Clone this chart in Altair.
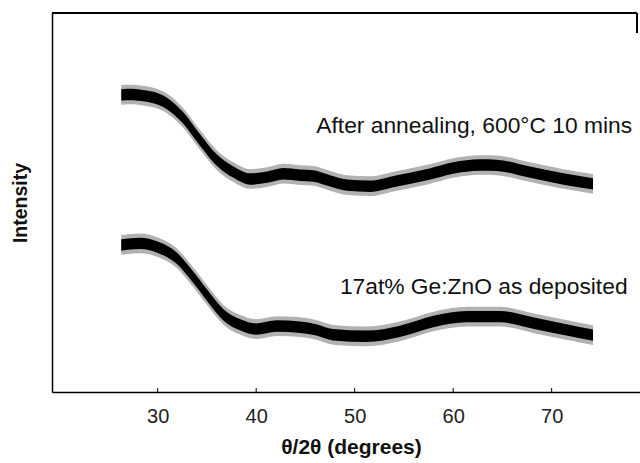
import altair as alt
import pandas as pd

# ---- data (2theta in degrees, intensity in arbitrary units) ----
deg_top = [26.3, 27.5, 28.5, 29.55, 30.9, 32.6, 34.3, 36.0, 37.7, 39.4, 41.1, 42.75,
           44.45, 45.8, 47.5, 49.2, 51.55, 54.3, 57.6, 60.0, 62.7, 64.4, 67.8, 71.2, 74.2]
int_top = [784, 785, 782, 777, 762, 723, 665, 612, 580, 562, 567, 576,
           572, 570, 557, 546, 543, 557, 575, 591, 599, 598, 580, 562, 549]

deg_bot = [26.3, 28.2, 30.2, 31.9, 33.6, 35.0, 36.7, 38.4, 40.0, 42.1, 44.45,
           46.1, 47.8, 51.2, 54.6, 58.0, 61.4, 64.75, 68.1, 71.5, 74.2]
int_bot = [388, 392, 380, 354, 303, 256, 203, 177, 166, 174, 171,
           164, 151, 147, 160, 186, 199, 199, 182, 164, 150]

series_names = ["After annealing", "As deposited"]
tick_values = [30, 40, 50, 60, 70]

label_texts = ["After annealing, 600°C 10 mins", "17at% Ge:ZnO as deposited"]
label_deg = [46.1, 48.5]
label_int = [683, 259]

# ---- tables ----
rows = []
for d, v in zip(deg_top, int_top):
    rows.append({"deg": d, "intensity": v, "sample": series_names[0]})
for d, v in zip(deg_bot, int_bot):
    rows.append({"deg": d, "intensity": v, "sample": series_names[1]})
df = pd.DataFrame(rows)
ticks_df = pd.DataFrame({"tick": tick_values})
labels_df = pd.DataFrame({"deg": label_deg, "intensity": label_int, "text": label_texts})

FONT = "Liberation Sans"
x_scale = alt.Scale(domain=[19.27, 78.97], nice=False, zero=False)
y_scale = alt.Scale(domain=[0, 1000], nice=False, zero=False)

x_axis = alt.Axis(values=tick_values, ticks=False, grid=False, domain=True,
                  domainColor="black", domainWidth=1.5,
                  labelFont=FONT, labelFontSize=20, labelColor="#222",
                  labelPadding=14, title="θ/2θ (degrees)", titleFont=FONT,
                  titleFontSize=21, titleFontWeight="bold", titleColor="#111",
                  titlePadding=10, titleX=299)
y_axis = alt.Axis(labels=False, ticks=False, grid=False, domain=True,
                  domainColor="black", domainWidth=1.5,
                  title="Intensity", titleFont=FONT, titleFontSize=19.5,
                  titleFontWeight="bold", titleColor="#111", titlePadding=22)

base = alt.Chart(df)

fringe = base.transform_calculate(
    lo="datum.intensity - 26", hi="datum.intensity + 26"
).mark_area(color="#555", opacity=0.45, interpolate="monotone").encode(
    x=alt.X("deg:Q", scale=x_scale, axis=x_axis),
    y=alt.Y("lo:Q", scale=y_scale, axis=y_axis),
    y2="hi:Q",
    detail="sample:N",
)

core = base.transform_calculate(
    lo="datum.intensity - 15", hi="datum.intensity + 15"
).mark_area(color="black", interpolate="monotone").encode(
    x=alt.X("deg:Q", scale=x_scale),
    y=alt.Y("lo:Q", scale=y_scale),
    y2="hi:Q",
    detail="sample:N",
)

tick_marks = alt.Chart(ticks_df).mark_rule(color="black", strokeWidth=1).encode(
    x=alt.X("tick:Q", scale=x_scale),
    y=alt.value(379),
    y2=alt.value(375),
)

# top frame line and the short right edge stub seen at the top-right corner
top_line = alt.Chart(ticks_df).mark_rule(color="black", strokeWidth=1.5).encode(
    x=alt.value(0), x2=alt.value(585), y=alt.value(0)
)
right_stub = alt.Chart(ticks_df).mark_rule(color="black", strokeWidth=1.2).encode(
    x=alt.value(585), y=alt.value(0), y2=alt.value(20)
)

text = alt.Chart(labels_df).mark_text(
    align="left", baseline="alphabetic", font=FONT, fontSize=22.8, color="#111"
).encode(
    x=alt.X("deg:Q", scale=x_scale),
    y=alt.Y("intensity:Q", scale=y_scale),
    text="text:N",
)

chart = alt.layer(fringe, core, tick_marks, top_line, right_stub, text).properties(
    width=588, height=379,
    padding={"left": 52, "top": 13, "right": 0, "bottom": 71},
    autosize="none",
).configure_view(strokeWidth=0).configure(background="white")

chart.save("out.html", embed_options={"renderer": "svg", "actions": False})
